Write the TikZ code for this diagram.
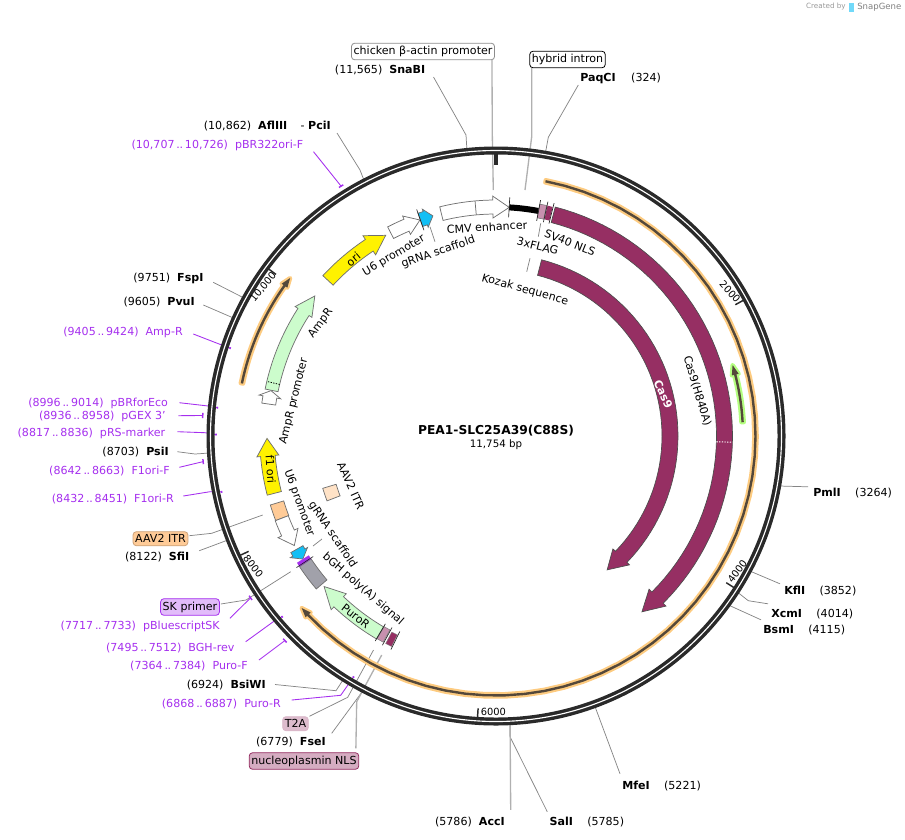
\documentclass[tikz,border=0pt]{standalone}
\usepackage{fontspec}
\setmainfont{DejaVu Sans}
\makeatletter
\def\rp@parse#1,#2\relax{\pgfmathsetmacro\rp@x{496+(#2)*sin(#1)}\pgfmathsetmacro\rp@y{436-(#2)*cos(#1)}\pgfpointxy{\rp@x}{\rp@y}}
\tikzdeclarecoordinatesystem{rp}{\rp@parse#1\relax}
\makeatother
\definecolor{cas}{HTML}{962F63}
\definecolor{prm}{HTML}{A52FEE}
\definecolor{ringc}{HTML}{2A2A2A}
\definecolor{lead}{HTML}{858585}
\definecolor{ora}{HTML}{FDCB80}
\definecolor{itr}{HTML}{FFCB97}
\definecolor{core}{HTML}{54483A}
\definecolor{lgreen}{HTML}{CCFCCC}
\definecolor{fborder}{HTML}{707070}
\definecolor{cyn}{HTML}{12BFF5}
\definecolor{mauve}{HTML}{C790AE}
\newcommand\dd{\hspace{.17em}.\kern-.04em.\hspace{.17em}}
% feature arrow: style, radius, shaft half, head half, start, head base, tip
\newcommand\feat[7][]{\path[#1] plot[domain=#5:#6,samples=50,variable=\t] ({496+(#2+#3)*sin(\t)},{436-(#2+#3)*cos(\t)}) -- (rp cs:#6,#2+#4) -- (rp cs:#7,#2) -- (rp cs:#6,#2-#4) -- plot[domain=#6:#5,samples=50,variable=\t] ({496+(#2-#3)*sin(\t)},{436-(#2-#3)*cos(\t)}) -- cycle;}
% feature block: style, inner r, outer r, a0, a1
\newcommand\blk[5][]{\path[#1] plot[domain=#4:#5,samples=12,variable=\t] ({496+(#3)*sin(\t)},{436-(#3)*cos(\t)}) -- plot[domain=#5:#4,samples=12,variable=\t] ({496+(#2)*sin(\t)},{436-(#2)*cos(\t)}) -- cycle;}
\newcommand\ftick[3]{\draw[ftk] (rp cs:#1,#2) -- (rp cs:#1,#3);}
\newcommand\pmark[2]{\draw[pmk] (rp cs:#1-#2,\pmr) -- (rp cs:#1+#2,\pmr);}
\tikzset{
  txt/.style={font=\fontsize{8.3}{10}\selectfont,inner sep=0pt,text=black},
  lbl/.style={txt,anchor=east},
  lbr/.style={txt,anchor=west},
  plb/.style={txt,anchor=east,text=prm},
  on/.style={txt},
  tklab/.style={txt,font=\fontsize{7.4}{9}\selectfont},
  box/.style={txt,rounded corners=2.5pt,draw,line width=.6pt,inner xsep=1.6pt,inner ysep=2.2pt,minimum height=14pt*.75},
  leader/.style={draw=lead,line width=.55pt},
  leaderb/.style={draw=lead!65,line width=1pt},
  pline/.style={draw=prm,line width=.65pt},
  pmk/.style={draw=prm,line width=1.1pt},
  ftk/.style={draw=black!85,line width=.5pt},
  fb/.style={draw=fborder,line width=.55pt,line join=miter},
  whitef/.style={fb,fill=white},
  tk/.style={draw=ringc,line width=1.1pt},
  halo/.style={draw=#1,fill=#1,line width=3.2pt,line join=round},
  corefill/.style={fill=core}
}
\begin{document}
\begin{tikzpicture}[x=.75pt,y=-.75pt]
\useasboundingbox (0,0) rectangle (905,839);
\coordinate (C) at (496,436);
% ---------- site and feature ends
\coordinate (sSna) at (rp cs:354.2,288);
\coordinate (sPaq) at (rp cs:9.9,286);
\coordinate (sPci) at (rp cs:332.7,288);
\coordinate (sFsp) at (rp cs:298.7,288);
\coordinate (sPvu) at (rp cs:294.2,288);
\coordinate (sPsi) at (rp cs:266.6,288);
\coordinate (sSfi) at (rp cs:248.8,288);
\coordinate (sBsi) at (rp cs:212.1,288);
\coordinate (sFse) at (rp cs:207.6,288);
\coordinate (sAcc) at (rp cs:177.2,288);
\coordinate (sSal) at (rp cs:177.2,288);
\coordinate (sMfe) at (rp cs:159.9,288);
\coordinate (sBsm) at (rp cs:126,288);
\coordinate (sXcm) at (rp cs:122.9,288);
\coordinate (sKfl) at (rp cs:118,288);
\coordinate (sPml) at (rp cs:100,288);
\coordinate (fChick) at (493.3,190);
\coordinate (fHyb) at (525,190);
\coordinate (fAAV) at (262.7,515);
\coordinate (fSK) at (290.7,571.7);
\coordinate (fT2A) at (373.5,650);
\coordinate (fNLS) at (381.7,655);
% ---------- text labels
\node[lbl] (tSna) at (425.5,70) {(11,565)~~\textbf{SnaBI}};
\node[lbr] (tPaq) at (580,78) {\textbf{PaqCI}\hspace{1.4em}(324)};
\node[lbl] (tPci) at (331,126) {(10,862)~~\textbf{AflIII}\hspace{1.2em}-~\textbf{PciI}};
\node[plb] (tpBR) at (303.5,145) {(10,707\dd 10,726)~~pBR322ori-F};
\node[lbl] (tFsp) at (203.7,278) {(9751)~~\textbf{FspI}};
\node[lbl] (tPvu) at (195,302) {(9605)~~\textbf{PvuI}};
\node[plb] (tAmp) at (183,332) {(9405\dd 9424)~~Amp-R};
\node[plb] (tEco) at (168.3,403.3) {(8996\dd 9014)~~pBRforEco};
\node[plb] (tGEX) at (166,416) {(8936\dd 8958)~~pGEX 3'};
\node[plb] (tpRS) at (165.5,433.3) {(8817\dd 8836)~~pRS-marker};
\node[lbl] (tPsi) at (169,452) {(8703)~~\textbf{PsiI}};
\node[plb] (tF1F) at (170,471) {(8642\dd 8663)~~F1ori-F};
\node[plb] (tF1R) at (174,499) {(8432\dd 8451)~~F1ori-R};
\node[lbl] (tSfi) at (189.5,557.5) {(8122)~~\textbf{SfiI}};
\node[plb] (tpBl) at (220,626) {(7717\dd 7733)~~pBluescriptSK};
\node[plb] (tBGH) at (234.7,648) {(7495\dd 7512)~~BGH-rev};
\node[plb] (tPuF) at (248,666) {(7364\dd 7384)~~Puro-F};
\node[lbl] (tBsi) at (266,685) {(6924)~~\textbf{BsiWI}};
\node[plb] (tPuR) at (281,704) {(6868\dd 6887)~~Puro-R};
\node[lbl] (tFse) at (326,742) {(6779)~~\textbf{FseI}};
\node[lbr] (tPml) at (813,493) {\textbf{PmlI}\hspace{1.3em}(3264)};
\node[lbr] (tKfl) at (784,591) {\textbf{KflI}\hspace{1.3em}(3852)};
\node[lbr] (tXcm) at (771,614) {\textbf{XcmI}\hspace{1.3em}(4014)};
\node[lbr] (tBsm) at (763,630) {\textbf{BsmI}\hspace{1.3em}(4115)};
\node[lbr] (tMfe) at (622,786) {\textbf{MfeI}\hspace{1.3em}(5221)};
\node[lbr] (tSal) at (549.3,822) {\textbf{SalI}\hspace{1.3em}(5785)};
\node[lbl] (tAcc) at (505,822) {(5786)~~\textbf{AccI}};
% boxes
\node[box,draw=black!45,fill=white] (bChick) at (423,51.5) {chicken β-actin promoter};
\node[box,draw=black,fill=white] (bHyb) at (567.5,59.5) {hybrid intron};
\node[box,draw=itr!80!black,fill=itr] (bAAV) at (160.5,538.7) {AAV2 ITR};
\node[box,draw=prm,fill=prm!32] (bSK) at (190,607) {SK primer};
\node[box,draw=cas!35,fill=cas!32] (bT2A) at (295.5,723.7) {T2A};
\node[box,draw=cas,fill=cas!40] (bNLS) at (304,761) {nucleoplasmin NLS};
% ---------- leaders
\draw[leader] ([shift={(8,7)}]tSna.east) -- (466,135) -- (sSna);
\draw[leader] ([shift={(-1.7,7)}]tPaq.west) -- (548.3,137.3) -- (sPaq);
\draw[leader] ([shift={(6,7)}]tPci.east) -- (360,170) -- (sPci);
\draw[leader] ([shift={(9.5,4.3)}]tFsp.east) -- (sFsp);
\draw[leader] ([shift={(8.3,3)}]tPvu.east) -- (sPvu);
\draw[leader] ([shift={(8.3,-.3)}]tPsi.east) -- (195,454) -- (sPsi);
\draw[leader] ([shift={(9.8,-6.8)}]tSfi.east) -- (sSfi);
\draw[leader] ([shift={(9,-.5)}]tBsi.east) -- (336,690.7) -- (sBsi);
\draw[leader] ([shift={(5.7,-8.7)}]tFse.east) -- (sFse);
\draw[leader] (tPml.north west) ++(-5,-1) -- (sPml);
\draw[leader] (tKfl.north west) ++(-4,-2) -- (sKfl);
\draw[leader] ([shift={(-3,-5)}]tXcm.north west) -- (748.3,600.7) -- (sXcm);
\draw[leader] ([shift={(-2,-5)}]tBsm.north west) -- (sBsm);
\draw[leader] ([shift={(-2,-7)}]tMfe.north west) -- (sMfe);
\draw[leader] ([shift={(-2,-5)}]tSal.north west) -- (510,736.7) -- (sSal);
\draw[leaderb] ([shift={(5.7,-7)}]tAcc.north east) -- (sAcc);
\draw[leaderb] (bChick.south east) ++(-3,0) -- (492.3,135) -- (fChick);
\draw[leaderb] (bHyb.south west) ++(2.4,0) -- (531.7,136.7) -- (fHyb);
\draw[leader] (bAAV.east) ++(1,-3) -- (211.7,533.3) -- (fAAV);
\draw[leader] (bSK.east) ++(1,-3) -- (246,600) -- (fSK);
\draw[leader] (bT2A.north east) ++(.7,0) -- (347.7,697.3) -- (fT2A);
\draw[leaderb] (bNLS.north east) ++(-3.3,-4) -- (356.7,701.7) -- (fNLS);
% primer leaders
\coordinate (m1) at (rp cs:328.2,294);
\coordinate (m2) at (rp cs:288.3,280);
\coordinate (m3) at (rp cs:275.8,280);
\coordinate (m4) at (rp cs:274,294);
\coordinate (m5) at (rp cs:270.3,280);
\coordinate (m6) at (rp cs:265,294);
\coordinate (m7) at (rp cs:258.5,280);
\coordinate (m8) at (rp cs:236.6,294);
\coordinate (m9) at (rp cs:229.8,280);
\coordinate (m10) at (rp cs:225.9,294);
\coordinate (m11) at (rp cs:210.6,280);
\draw[pline] ([shift={(10,6.7)}]tpBR.east) -- (m1);
\draw[pline] ([shift={(10.3,2)}]tAmp.east) -- (221.7,345) -- (m2);
\draw[pline] ([shift={(11,-.6)}]tEco.east) -- (208.3,406) -- (m3);
\draw[pline] ([shift={(12.3,-.3)}]tGEX.east) -- (m4);
\draw[pline] ([shift={(11.8,-1.6)}]tpRS.east) -- (205,432.7) -- (m5);
\draw[pline] ([shift={(9.3,-3.7)}]tF1F.east) -- (m6);
\draw[pline] ([shift={(9.3,-3)}]tF1R.east) -- (210,491.7) -- (m7);
\draw[pline] ([shift={(10,-7.7)}]tpBl.east) -- (m8);
\draw[pline] ([shift={(11,-6.3)}]tBGH.east) -- (273.3,621.7) -- (m9);
\draw[pline] ([shift={(11,-6)}]tPuF.east) -- (m10);
\draw[pline] ([shift={(10.7,-4)}]tPuR.east) -- (340.7,695.3) -- (m11);
% ---------- backbone
\path[draw=ringc,line width=6pt] (C) circle[radius=285.5];
\path[draw=white,line width=.85pt] (C) circle[radius=285.5];
% primer marks
\def\pmr{294}
\pmark{328.2}{.5}\pmark{274}{.5}\pmark{265}{.5}\pmark{236.6}{.5}\pmark{225.9}{.5}
\def\pmr{280}
\pmark{288.3}{.2}\pmark{275.8}{.2}\pmark{270.3}{.2}\pmark{258.5}{.2}\pmark{229.8}{.2}\pmark{210.6}{.2}
% scale ticks
\draw[ringc,line width=2.3pt] (rp cs:0,283) -- (rp cs:0,271);
\draw[tk] (rp cs:61.25,283) -- (rp cs:61.25,273);
\draw[tk] (rp cs:122.5,283) -- (rp cs:122.5,273);
\draw[tk] (rp cs:183.76,283) -- (rp cs:183.76,273);
\draw[tk] (rp cs:245,283) -- (rp cs:245,273);
\draw[tk] (rp cs:306.3,283) -- (rp cs:306.3,273);
\node[tklab,rotate=-48] (n2k) at (730,291.7) {2000};
\node[tklab,rotate=53] (n4k) at (737.3,571.7) {4000};
\node[tklab] (n6k) at (493.3,711.7) {6000};
\node[tklab,rotate=-52] (n8k) at (253.3,566) {8000};
\node[tklab,rotate=50] (n10k) at (263.3,287.3) {10,000};
% ---------- long orange features
\feat[halo=ora]{259.5}{1.2}{3.5}{11}{226.4}{228.5}
\feat[corefill]{259.5}{1.2}{3.5}{11}{226.4}{228.5}
\feat[halo=ora]{259.5}{1.2}{3.5}{281.7}{305.4}{307.5}
\feat[corefill]{259.5}{1.2}{3.5}{281.7}{305.4}{307.5}
\feat[halo={green!45!lime!50}]{247}{1.2}{3.5}{86.8}{75.6}{73.3}
\feat[corefill]{247}{1.2}{3.5}{86.8}{75.6}{73.3}
% ---------- Cas9
\feat[draw=black!70,line width=.5pt,fill=cas]{228.5}{8}{12}{14.5}{135}{140.3}
\feat[draw=black!70,line width=.5pt,fill=cas]{174}{8}{11.5}{14.5}{134}{140.3}
\draw[white,line width=.7pt,dash pattern=on 1pt off 1pt] (rp cs:91.5,220.5) -- (rp cs:91.5,236.5);
% ---------- features, clockwise labelled
\feat[whitef]{229}{7}{11}{346.2}{359.2}{363.3}
\draw[fb] (rp cs:354.9,222) -- (rp cs:354.9,236);
\blk[fill=black]{226}{232}{3.3}{10.7}
\ftick{3.3}{219}{239}
\blk[fill=mauve,draw=black!55,line width=.4pt]{222}{236}{10.7}{12.4}
\blk[fill=cas]{222}{236}{12.6}{13.9}
\ftick{10.7}{219}{240}\ftick{12.5}{219}{240}\ftick{14}{219}{240}
\feat[whitef]{229}{6.5}{10}{332.6}{337}{340.6}
\feat[fb,fill=cyn]{229}{7}{9.5}{340.7}{342}{344}
\ftick{340.7}{218}{240}
\feat[fb,fill=yellow]{229}{7}{11.5}{312.8}{326.4}{331.2}
\feat[fb,fill=lgreen]{229}{6.6}{10}{281.5}{302.8}{307.7}
\draw[black,line width=.6pt,dash pattern=on 1pt off 1pt] (rp cs:283.4,222.4) -- (rp cs:283.4,235.6);
\feat[whitef]{229.5}{7}{11}{278}{279.8}{281.4}
\feat[fb,fill=yellow]{229}{7.3}{11}{255.5}{265}{269.4}
\blk[fb,fill=itr]{222}{236}{249}{253}
\blk[fb,fill=itr!55!white]{167}{181}{249}{253.2}
\feat[whitef]{229.5}{7}{11}{249}{245}{241.5}
\feat[fb,fill=cyn]{229}{7}{10}{240.4}{239.4}{237.5}
\blk[fb,fill=blue!5!gray!70]{222}{236}{229.6}{236.4}
\blk[fill=prm]{222}{236}{236.4}{237.5}
\ftick{236.6}{219}{239}
\feat[fb,fill=lgreen]{228.5}{7}{11}{210.5}{223.5}{228.8}
\blk[draw=black!50,line width=.4pt,fill=mauve]{221}{235}{208.7}{210.4}
\blk[fill=cas,draw=black!50,line width=.3pt]{222}{235}{206.4}{208}
\ftick{210.5}{218}{238}\ftick{208.5}{218}{238}\ftick{206.2}{218}{238}
% inner labels and their short leaders
\node[on,rotate=3.4] (lCMV) at (487,227) {CMV enhancer};
\node[on,rotate=30.5] (lU6t) at (394,255.7) {U6 promoter};
\node[on,rotate=19] (lgRt) at (438.3,252.3) {gRNA scaffold};
\node[on,rotate=-22] (lSV) at (570,242.7) {SV40 NLS};
\node[on,rotate=-14] (l3x) at (537.7,246) {3xFLAG};
\node[on,rotate=-15.5] (lKoz) at (525,290) {Kozak sequence};
\node[on,rotate=-73.3] (lCH) at (697.3,391) {Cas9(H840A)};
\node[on,rotate=-65,text=white,font=\fontsize{8.3}{10}\selectfont\bfseries] (lC) at (663.3,394) {Cas9};
\node[on,rotate=53] (lAmp) at (320.7,323.3) {AmpR};
\node[on,rotate=76] (lAP) at (294,401) {AmpR promoter};
\node[on,rotate=40] (lori) at (353.3,259.3) {ori};
\node[on,rotate=-86] (lf1) at (270.7,469.3) {f1 ori};
\node[on,rotate=-70] (lU6b) at (299,503) {U6 promoter};
\node[on,rotate=-66] (lITR) at (351,485.7) {AAV2 ITR};
\node[on,rotate=-56] (lgRb) at (332.5,535) {gRNA scaffold};
\node[on,rotate=-41] (lbGH) at (363,589) {bGH poly(A) signal};
\node[on,rotate=-38] (lPuro) at (355.7,616) {PuroR};
\coordinate (kK) at (526.7,271.7);\coordinate (kF) at (530,258.3);
\draw[leader] (kK) -- (kF);
\coordinate (fF) at (538.3,236.7);\coordinate (fE) at (540.7,223.3);
\draw[leader] (fF) -- (fE);
\coordinate (gT) at (435,241.7);\coordinate (gE) at (430,226.7);
\draw[leader] (gT) -- (gE);
\coordinate (gB) at (322,539);\coordinate (gF) at (313,546);
\draw[leader] (gB) -- (gF);
% centre
\node[txt,font=\fontsize{9.2}{12}\selectfont\bfseries] (title) at (496,431) {PEA1-SLC25A39(C88S)};
\node[txt,font=\fontsize{7.7}{10}\selectfont] (size) at (496,444.5) {11,754 bp};
% credit
\node[txt,font=\fontsize{5.4}{7}\selectfont,text=black!40,anchor=east] (cr1) at (846,7) {Created by};
\node[txt,font=\fontsize{6.4}{8}\selectfont,text=black!50,anchor=west] (cr2) at (857,7) {SnapGene};
\path[fill=cyn!60] (849,2.5) rectangle (853.5,11.5);
\end{tikzpicture}
\end{document}
